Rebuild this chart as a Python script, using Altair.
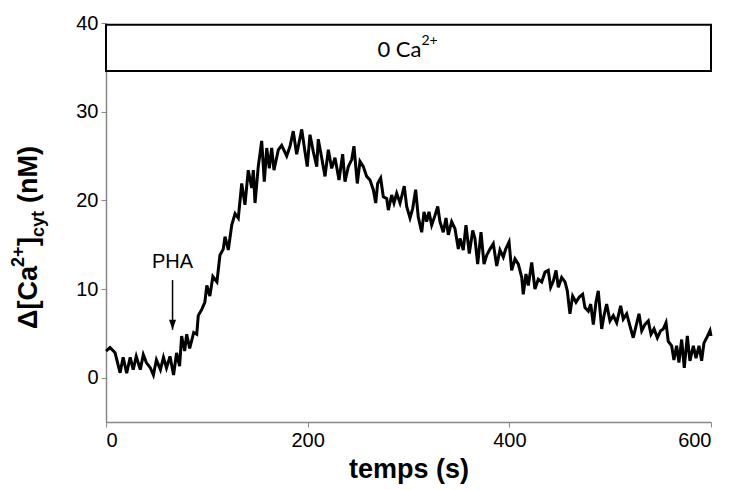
import altair as alt
import pandas as pd

# ---- data ----
time_s = [0, 4, 9, 14, 17, 20.5, 24, 27, 30, 34, 37, 40, 44, 47, 50, 54, 57, 60, 63.5, 67,
          70, 73, 75, 78, 80, 83, 87, 90, 91.5, 95, 98, 100, 103, 106, 110, 113, 116.3, 118,
          121.3, 124.7, 128, 131.2, 134.6, 137.8, 141.1, 144.5, 146.1, 147.8, 151, 154.4, 157,
          159.4, 162, 164.3, 166.6, 170.9, 174.2, 179.2, 182.5, 185.7, 189.1, 194.1, 197.3,
          199.6, 202.3, 205.6, 209, 210.5, 213.9, 217.2, 220.5, 223.8, 227.1, 231.1, 234.7,
          237, 240.3, 243.7, 245.9, 249.2, 251.9, 255.2, 258.5, 261.8, 265.1, 267.5, 269.4,
          272.4, 275, 278.4, 280, 283.3, 285.6, 288.3, 291.6, 295.8, 298.2, 301.5, 304.2,
          307.1, 309.7, 313.1, 315.4, 318, 320.3, 323, 326.3, 329, 331.2, 334.5, 337.2, 339.5,
          342.8, 346.1, 349.4, 351.1, 354.3, 357, 360.3, 363.7, 365.9, 368.6, 371.9, 374.9,
          377.5, 380.8, 384.1, 387.5, 390.7, 394, 396.4, 399.7, 402.3, 405.6, 408.9, 412.3,
          413.8, 416.5, 418.8, 422.2, 425.4, 428.7, 432.1, 435.4, 438.6, 441, 443.6, 446.3,
          448.6, 451.9, 455.2, 457.5, 460.1, 462.8, 466.1, 469.4, 472.7, 475, 478.3, 480.7,
          483.3, 485.9, 488.2, 491.6, 493.9, 496.5, 499.8, 503.1, 506.5, 510.4, 513, 516.4,
          519.7, 522.9, 525.6, 528.6, 531.3, 534.5, 537.8, 540.5, 543.5, 546.8, 550.1, 552.7,
          555.4, 557.6, 561, 563.2, 565.9, 568.2, 570.9, 573.5, 576.5, 579.1, 582.5, 585.1,
          588.1, 590.7, 593, 595.7, 599, 600]
ca_nM = [3.0, 3.4, 2.8, 0.55, 2.3, 0.5, 2.3, 0.9, 2.4, 0.9, 2.6, 1.7, 1.1, 0.3, 2.0, 0.9, 2.3, 1.1, 2.4, 0.3,
         2.8, 1.3, 4.7, 3.0, 4.9, 3.3, 5.1, 4.9, 7.0, 7.7, 8.5, 10.4, 9.2, 11.4, 10.8, 13.8, 14.5, 15.9,
         14.4, 17.2, 18.5, 18.0, 21.9, 19.5, 23.4, 21.4, 23.4, 19.7, 23.8, 26.7, 22.1,
         25.9, 23.6, 25.9, 23.4, 25.7, 26.2, 25.0, 26.1, 27.8, 25.2, 28.0, 25.5,
         23.8, 27.4, 25.5, 23.8, 26.9, 24.8, 22.7, 25.7, 23.6, 24.8, 22.3, 25.2,
         22.1, 23.8, 24.6, 26.1, 21.9, 24.4, 23.8, 22.7, 22.3, 21.2, 19.7, 21.9,
         22.5, 20.4, 20.2, 18.9, 20.6, 19.7, 20.8, 19.7, 21.6, 19.3, 18.0, 19.1,
         21.2, 18.1, 16.4, 18.7, 17.6, 18.7, 17.2, 18.3, 19.3, 17.6, 16.4, 18.0, 16.1,
         17.6, 16.8, 14.5, 15.7, 14.4, 17.2, 14.0, 16.6, 15.7, 12.8, 16.4, 12.8,
         13.8, 14.5, 15.1, 12.6, 14.4, 13.6, 14.5, 15.3, 12.1, 13.4, 12.8, 11.3,
         9.4, 11.7, 10.4, 13.0, 10.0, 11.1, 10.8, 11.9, 12.1, 10.2, 10.9, 12.1,
         10.2, 11.3, 10.8, 9.8, 7.2, 9.2, 8.5, 9.1, 9.4, 7.9, 7.5, 8.3,
         6.0, 8.5, 9.8, 5.5, 7.0, 8.3, 6.4, 7.0, 6.2, 8.1, 6.6, 7.2,
         5.8, 4.5, 5.8, 7.2, 5.3, 6.0, 6.4, 4.9, 5.5, 4.5, 5.3, 5.5,
         6.2, 4.1, 3.6, 2.0, 3.6, 1.7, 4.3, 1.1, 4.7, 1.9, 3.6, 2.2,
         3.6, 1.9, 3.9, 4.5, 5.3, 4.7]

x_ticks = [0, 200, 400, 600]
y_ticks = [0, 10, 20, 30, 40]

box_start, box_end = [0], [600]
box_low, box_high = [34.6], [39.8]
box_label = ["0 Ca"]
box_label_sup = ["2+"]

arrow_time = [66]
arrow_top = [11.0]
arrow_tip = [5.4]
arrow_label = ["PHA"]
arrow_label_y = [12.4]

title_main = ["Δ[Ca", "]", "(nM)"]
title_sup = "2+"
title_sub = "cyt"

df = pd.DataFrame({"t": time_s, "v": ca_nM})

xs = alt.Scale(domain=[0, 600], nice=False)
ys = alt.Scale(domain=[-5, 40], nice=False)

FONT = "Liberation Sans"

line = alt.Chart(df).mark_line(color="black", strokeWidth=3, strokeJoin="miter").encode(
    x=alt.X("t:Q", scale=xs,
            axis=alt.Axis(values=x_ticks, title="temps (s)", titleFontSize=27, titleFont=FONT,
                          titleFontWeight="bold", titleColor="black", titlePadding=6,
                          labelPadding=3)),
    y=alt.Y("v:Q", scale=ys,
            axis=alt.Axis(values=y_ticks, title=None, labelPadding=3)),
)

box_df = pd.DataFrame({"x": box_start, "x2": box_end, "y": box_low, "y2": box_high,
                       "lab": box_label, "sup": box_label_sup})
box = alt.Chart(box_df).mark_rect(fill="white", stroke="black", strokeWidth=2).encode(
    x=alt.X("x:Q", scale=xs), x2="x2:Q", y=alt.Y("y:Q", scale=ys), y2="y2:Q")
box_mid = alt.Chart(box_df).transform_calculate(xm="(datum.x + datum.x2) / 2",
                                                 ym="(datum.y + datum.y2) / 2")
box_text = box_mid.mark_text(font="Lato", fontSize=22, align="right", baseline="middle",
                             dx=13, dy=2, color="black").encode(
    x=alt.X("xm:Q", scale=xs), y=alt.Y("ym:Q", scale=ys), text="lab:N")
box_sup = box_mid.mark_text(font="Lato", fontSize=14, align="left", baseline="middle",
                            dx=13, dy=-7, color="black").encode(
    x=alt.X("xm:Q", scale=xs), y=alt.Y("ym:Q", scale=ys), text="sup:N")

arr_df = pd.DataFrame({"t": arrow_time, "top": arrow_top, "tip": arrow_tip,
                       "lab": arrow_label, "ly": arrow_label_y})
arrow_shaft = alt.Chart(arr_df).mark_rule(color="black", strokeWidth=1.5).encode(
    x=alt.X("t:Q", scale=xs), y=alt.Y("top:Q", scale=ys), y2="tip:Q")
arrow_head = alt.Chart(arr_df).mark_point(shape="M-0.7,-2L0.7,-2L0,0Z", size=100, filled=True,
                                          color="black", opacity=1).encode(
    x=alt.X("t:Q", scale=xs), y=alt.Y("tip:Q", scale=ys))
arrow_text = alt.Chart(arr_df).mark_text(font=FONT, fontSize=20, baseline="alphabetic",
                                         align="center", color="black").encode(
    x=alt.X("t:Q", scale=xs), y=alt.Y("ly:Q", scale=ys), text="lab:N")

# rotated y-axis title made of pieces (main, superscript, subscript)
pieces = pd.DataFrame({
    "txt": [title_main[0], title_sup, title_main[1], title_sub, title_main[2]],
    "size": [27, 18, 27, 18, 27],
    "px": [-69, -82, -69, -62, -69],
    "py": [306, 244, 223, 214, 180],
})
title_layers = []
for _, r in pieces.iterrows():
    title_layers.append(
        alt.Chart(pd.DataFrame({"txt": [r["txt"]]})).mark_text(
            font=FONT, fontSize=int(r["size"]), fontWeight="bold", angle=270, align="left",
            baseline="alphabetic", color="black").encode(
            x=alt.value(float(r["px"])), y=alt.value(float(r["py"])), text="txt:N"))

chart = alt.layer(line, box, box_text, box_sup, arrow_shaft, arrow_head, arrow_text,
                  *title_layers).properties(
    width=605, height=399,
    autosize=alt.AutoSizeParams(type="none"),
    padding={"left": 106, "top": 23, "right": 20, "bottom": 68},
).configure_view(stroke=None).configure_axis(
    grid=False, domainColor="#888888", tickColor="#888888", tickSize=5, domainWidth=1.5,
    labelFont=FONT, labelFontSize=20, labelColor="black",
)

chart.save("out.html", embed_options={"renderer": "svg", "actions": False})
